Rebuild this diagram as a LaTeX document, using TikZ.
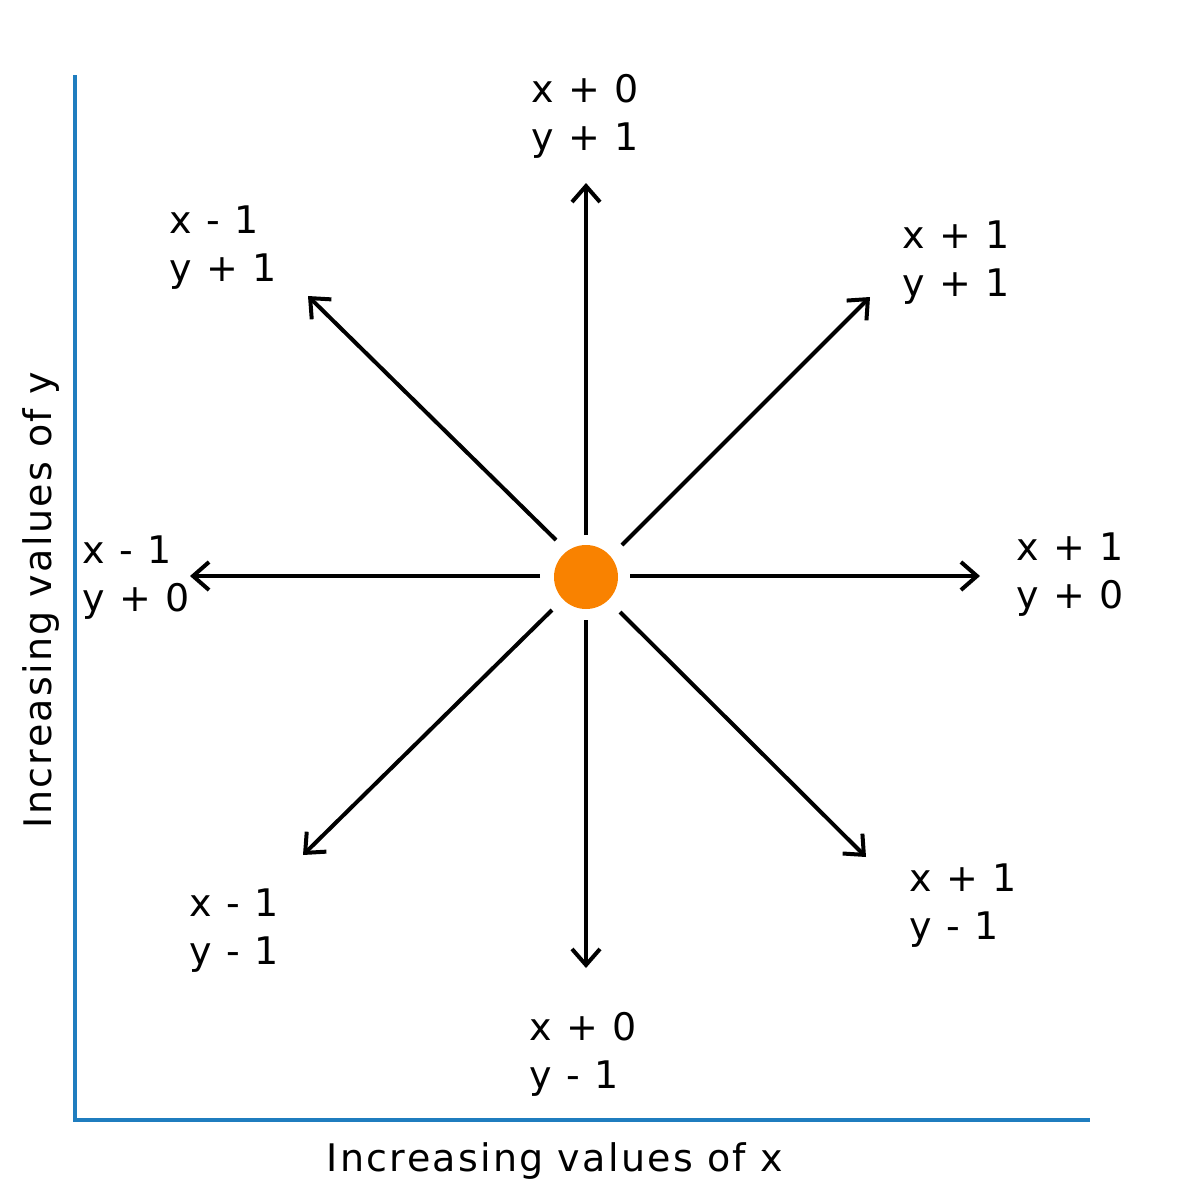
\documentclass[tikz,border=0pt]{standalone}
\usepackage{fontspec}
\setmainfont{DejaVu Sans}[LetterSpace=6]
\usetikzlibrary{arrows.meta}
\definecolor{axisblue}{HTML}{1F7DBF}
\definecolor{dotorange}{HTML}{F98200}
\begin{document}
\begin{tikzpicture}[x=0.5pt,y=-0.5pt,
  arr/.style={line width=2pt,-{Straight Barb[length=8pt,width=14pt,line width=2pt]}},
  lbl/.style={anchor=west,align=left,inner sep=0pt,font=\fontsize{19}{24}\selectfont},
  axl/.style={inner sep=0pt,font=\fontsize{19}{22}\selectfont}]
\useasboundingbox (0,0) rectangle (1200,1200);
\draw[axisblue,line width=2pt] (75,75) -- (75,1120) -- (1090,1120);
\node[circle,fill=dotorange,minimum size=32pt,inner sep=0pt] (c) at (586,577) {};
\coordinate (u0) at (586,535); \coordinate (u1) at (586,183);
\coordinate (d0) at (586,620); \coordinate (d1) at (586,968);
\coordinate (r0) at (630,576); \coordinate (r1) at (980,576);
\coordinate (l0) at (540,576); \coordinate (l1) at (190,576);
\coordinate (ne0) at (622,545); \coordinate (ne1) at (870,297);
\coordinate (nw0) at (556,540); \coordinate (nw1) at (308,296);
\coordinate (sw0) at (552,610); \coordinate (sw1) at (303,855);
\coordinate (se0) at (620,612); \coordinate (se1) at (866,857);
\foreach \a in {u,d,r,l,ne,nw,sw,se} \draw[arr] (\a0) -- (\a1);
\node[lbl] (tT) at (531,116) {x + 0\\y + 1};
\node[lbl] (tNW) at (169,248) {x - 1\\y + 1};
\node[lbl] (tNE) at (902,263) {x + 1\\y + 1};
\node[lbl] (tL) at (82,578) {x - 1\\y + 0};
\node[lbl] (tR) at (1016,575) {x + 1\\y + 0};
\node[lbl] (tSW) at (189,931) {x - 1\\y - 1};
\node[lbl] (tSE) at (909,906) {x + 1\\y - 1};
\node[lbl] (tB) at (529,1054) {x + 0\\y - 1};
\node[axl] (ax) at (555,1161) {Increasing values of x};
\node[axl,rotate=90] (ay) at (41,600) {Increasing values of y};
\end{tikzpicture}
\end{document}
